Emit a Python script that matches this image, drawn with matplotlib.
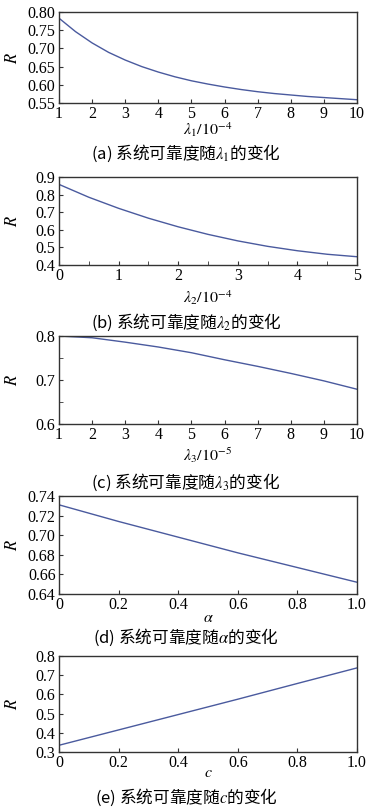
#!/usr/bin/env python3
"""
plot.py

System reliability R versus five model parameters, stacked in five panels.
Saves out.png (372x809 px).
"""

import matplotlib
matplotlib.use("Agg")
import matplotlib.pyplot as plt
from matplotlib.ticker import MultipleLocator

# (a) R vs lambda_1 (x 1e-4)
lam1 = [1, 1.5, 2, 2.5, 3, 3.5, 4, 4.5, 5, 5.5, 6, 6.5, 7, 7.5, 8, 8.5, 9, 9.5, 10]
r_lam1 = [0.783, 0.746, 0.715, 0.689, 0.668, 0.650, 0.635, 0.622, 0.611, 0.602,
          0.594, 0.587, 0.581, 0.576, 0.572, 0.568, 0.565, 0.562, 0.559]

# (b) R vs lambda_2 (x 1e-4)
lam2 = [0, 0.5, 1, 1.5, 2, 2.5, 3, 3.5, 4, 4.5, 5]
r_lam2 = [0.858, 0.785, 0.722, 0.666, 0.617, 0.574, 0.537, 0.506, 0.481, 0.461, 0.447]

# (c) R vs lambda_3 (x 1e-5)
lam3 = [1, 2, 3, 4, 5, 6, 7, 8, 9, 10]
r_lam3 = [0.800, 0.796, 0.786, 0.775, 0.762, 0.746, 0.731, 0.715, 0.698, 0.679]

# (d) R vs alpha
alpha = [0, 0.2, 0.4, 0.6, 0.8, 1.0]
r_alpha = [0.731, 0.714, 0.698, 0.682, 0.667, 0.652]

# (e) R vs c
c_vals = [0, 0.2, 0.4, 0.6, 0.8, 1.0]
r_c = [0.335, 0.415, 0.495, 0.575, 0.657, 0.738]

XLABELS = [r"$\lambda_1/10^{-4}$", r"$\lambda_2/10^{-4}$", r"$\lambda_3/10^{-5}$",
           r"$\alpha$", r"$c$"]
CAPTIONS = [r"(a) 系统可靠度随$\lambda_1$的变化",
            r"(b) 系统可靠度随$\lambda_2$的变化",
            r"(c) 系统可靠度随$\lambda_3$的变化",
            r"(d) 系统可靠度随$\alpha$的变化",
            r"(e) 系统可靠度随$c$的变化"]

W, H = 372, 809
LINE_COLOR = "#4a5a9e"

# panel boxes in pixels: top, bottom; plus label and caption y (pixels)
PANELS = [
    dict(x=lam1, y=r_lam1, top=12, bot=103, xlab_y=130, cap_y=153,
         xlim=(1, 10), ylim=(0.55, 0.80), xmaj=1, ymaj=0.05, xmin=None, ymin=None, yfmt="%.2f", xfmt="%d"),
    dict(x=lam2, y=r_lam2, top=177, bot=265, xlab_y=298, cap_y=322,
         xlim=(0, 5), ylim=(0.4, 0.9), xmaj=1, ymaj=0.1, xmin=0.5, ymin=None, yfmt="%.1f", xfmt="%d"),
    dict(x=lam3, y=r_lam3, top=336, bot=424, xlab_y=455, cap_y=482,
         xlim=(1, 10), ylim=(0.6, 0.8), xmaj=1, ymaj=0.1, xmin=None, ymin=0.05, yfmt="%.1f", xfmt="%d"),
    dict(x=alpha, y=r_alpha, top=496, bot=594, xlab_y=618, cap_y=637,
         xlim=(0, 1), ylim=(0.64, 0.74), xmaj=0.2, ymaj=0.02, xmin=None, ymin=None, yfmt="%.2f", xfmt="%.1f"),
    dict(x=c_vals, y=r_c, top=656, bot=752, xlab_y=773, cap_y=797,
         xlim=(0, 1), ylim=(0.3, 0.8), xmaj=0.2, ymaj=0.1, xmin=None, ymin=None, yfmt="%.1f", xfmt="%.1f"),
]

plt.rcParams["mathtext.fontset"] = "stix"
plt.rcParams["font.family"] = ["Liberation Serif", "DejaVu Serif"]

fig = plt.figure(figsize=(W / 100, H / 100), dpi=100)

left, right = 59, 357

for p, xlab, cap in zip(PANELS, XLABELS, CAPTIONS):
    ax = fig.add_axes([left / W, 1 - p["bot"] / H, (right - left) / W, (p["bot"] - p["top"]) / H])
    ax.plot(p["x"], p["y"], color=LINE_COLOR, lw=1.0)
    ax.set_xlim(*p["xlim"])
    ax.set_ylim(*p["ylim"])
    ax.xaxis.set_major_locator(MultipleLocator(p["xmaj"]))
    ax.yaxis.set_major_locator(MultipleLocator(p["ymaj"]))
    if p["xmin"]:
        ax.xaxis.set_minor_locator(MultipleLocator(p["xmin"]))
    if p["ymin"]:
        ax.yaxis.set_minor_locator(MultipleLocator(p["ymin"]))
    ax.xaxis.set_major_formatter(lambda v, pos, f=p["xfmt"]: ("%d" % round(v)) if v == 0 else f % v)
    ax.yaxis.set_major_formatter(lambda v, pos, f=p["yfmt"]: f % v)
    ax.tick_params(which="both", direction="in", top=False, right=False,
                   labelsize=11.5, color="#333333")
    ax.tick_params(axis="x", pad=2.0)
    ax.tick_params(axis="y", pad=2.5)
    ax.tick_params(which="major", length=3)
    ax.tick_params(which="minor", length=3)
    for s in ax.spines.values():
        s.set_color("#333333")
        s.set_linewidth(1.0)

    ymid = 1 - (p["top"] + p["bot"]) / 2 / H
    fig.text(13 / W, ymid, "$R$", rotation=90, ha="center", va="center", fontsize=12)
    fig.text((left + right) / 2 / W, 1 - p["xlab_y"] / H, xlab,
             ha="center", va="center", fontsize=11.5)
    fig.text(186 / W, 1 - p["cap_y"] / H, cap, ha="center", va="center", fontsize=12,
             family=["Noto Sans CJK SC", "DejaVu Sans"])

fig.savefig("out.png", dpi=100)
